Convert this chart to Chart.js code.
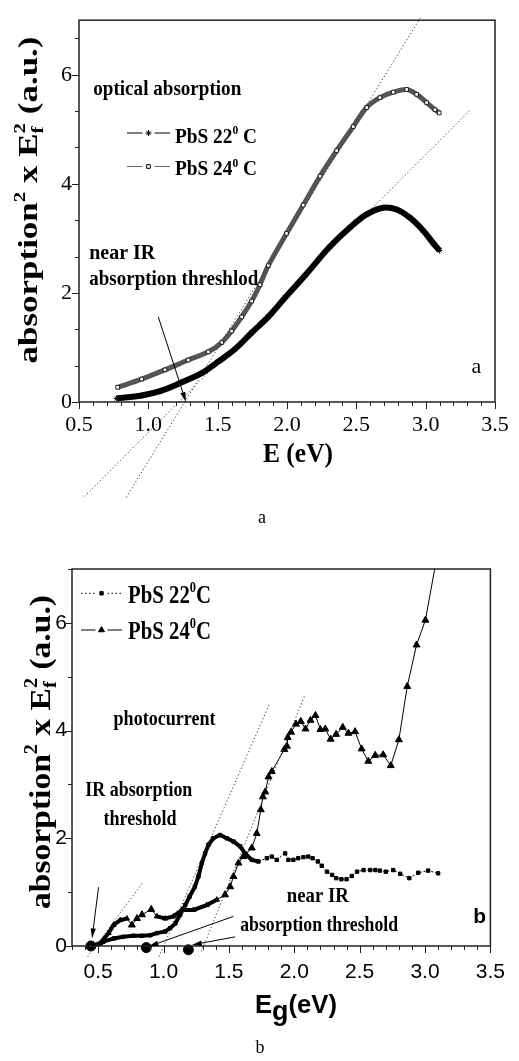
<!DOCTYPE html>
<html lang="en">
<head>
<meta charset="UTF-8">
<title>PbS optical absorption and photocurrent</title>
<script src="https://cdn.jsdelivr.net/npm/chart.js"></script>
<style>
  body { margin: 0; background: #fff; width: 519px; height: 1061px; overflow: hidden; position: relative; }
  canvas { position: absolute; left: 0; }
  #chartA { top: 0; }
  #chartB { top: 530px; }
</style>
</head>
<body>
<canvas id="chartA" width="519" height="530"></canvas>
<canvas id="chartB" width="519" height="531"></canvas>
<script>
// ---- (a) optical absorption ----
const a22x = [0.772, 0.952, 1.096, 1.24, 1.385, 1.504, 1.625, 1.745, 1.865, 1.985, 2.13, 2.31, 2.454, 2.574, 2.694, 2.79, 2.886, 2.98, 3.055, 3.10];
const a22y = [0.065, 0.12, 0.21, 0.36, 0.53, 0.74, 0.97, 1.27, 1.56, 1.91, 2.32, 2.85, 3.20, 3.44, 3.56, 3.53, 3.38, 3.15, 2.91, 2.78];
const a24x = [0.779, 0.952, 1.12, 1.288, 1.432, 1.529, 1.60, 1.673, 1.745, 1.805, 1.865, 1.997, 2.117, 2.238, 2.358, 2.478, 2.574, 2.67, 2.766, 2.863, 2.935, 3.007, 3.067, 3.098];
const a24y = [0.27, 0.42, 0.59, 0.77, 0.92, 1.09, 1.30, 1.56, 1.85, 2.15, 2.50, 3.09, 3.61, 4.14, 4.61, 5.05, 5.40, 5.58, 5.68, 5.73, 5.64, 5.49, 5.36, 5.30];
// tangent lines (end points)
const aFit1x = [0.84, 2.97], aFit1y = [-1.75, 7.08];
const aFit2x = [0.54, 3.32], aFit2y = [-1.73, 5.35];
const aTicksX = [0.5, 1.0, 1.5, 2.0, 2.5, 3.0, 3.5];
const aTicksY = [0, 2, 4, 6];

// ---- (b) photocurrent ----
const b22x = [0.478, 0.54, 0.62, 0.69, 0.77, 0.835, 0.898, 0.95, 1.013, 1.05, 1.09, 1.127, 1.166, 1.20, 1.24, 1.267, 1.293, 1.318, 1.344, 1.38, 1.433, 1.484, 1.535, 1.586, 1.624, 1.675, 1.726, 1.79, 1.828, 1.866, 1.93, 1.955, 1.993, 2.03, 2.07, 2.107, 2.14, 2.18, 2.21, 2.25, 2.29, 2.32, 2.36, 2.40, 2.44, 2.48, 2.53, 2.58, 2.62, 2.655, 2.70, 2.757, 2.81, 2.88, 2.948, 3.024, 3.10];
const b22y = [0.02, 0.08, 0.14, 0.17, 0.19, 0.19, 0.20, 0.24, 0.27, 0.33, 0.42, 0.58, 0.76, 0.92, 1.10, 1.29, 1.54, 1.72, 1.88, 2.00, 2.06, 2.00, 1.94, 1.85, 1.72, 1.60, 1.57, 1.63, 1.66, 1.60, 1.72, 1.60, 1.60, 1.63, 1.65, 1.66, 1.63, 1.57, 1.49, 1.38, 1.32, 1.26, 1.24, 1.24, 1.30, 1.38, 1.41, 1.41, 1.41, 1.40, 1.38, 1.41, 1.34, 1.26, 1.36, 1.40, 1.35];
const b24x = [0.48, 0.516, 0.58, 0.618, 0.669, 0.72, 0.758, 0.797, 0.835, 0.906, 0.95, 1.013, 1.076, 1.14, 1.229, 1.33, 1.408, 1.47, 1.51, 1.535, 1.573, 1.61, 1.675, 1.713, 1.744, 1.76, 1.778, 1.803, 1.828, 1.924, 1.944, 1.95, 1.975, 2.013, 2.05, 2.086, 2.124, 2.162, 2.20, 2.237, 2.278, 2.32, 2.371, 2.414, 2.465, 2.515, 2.566, 2.619, 2.68, 2.738, 2.80, 2.864, 2.935, 3.003, 3.10];
const b24y = [0.0, 0.05, 0.24, 0.39, 0.48, 0.51, 0.39, 0.51, 0.58, 0.68, 0.55, 0.51, 0.55, 0.67, 0.67, 0.76, 0.86, 0.95, 1.10, 1.29, 1.54, 1.66, 1.82, 2.09, 2.53, 2.77, 2.86, 3.14, 3.24, 3.65, 3.71, 3.87, 3.97, 4.12, 4.17, 4.03, 4.19, 4.28, 4.02, 4.03, 3.84, 3.93, 4.06, 3.95, 3.98, 3.66, 3.43, 3.54, 3.55, 3.35, 3.83, 4.82, 5.59, 6.05, 7.35];
// threshold markers on the axis
const bThrX = [0.445, 0.868, 1.19], bThrY = [0.0, -0.03, -0.07];
const bFitAx = [0.42, 0.845], bFitAy = [-0.2, 1.19];
const bFitBx = [0.965, 1.815], bFitBy = [-0.2, 4.52];
const bFitCx = [1.29, 2.08], bFitCy = [-0.1, 4.65];
const bTicksX = [0.5, 1.0, 1.5, 2.0, 2.5, 3.0, 3.5];
const bTicksY = [0, 2, 4, 6];

const serif = "'Liberation Serif', 'Times New Roman', serif";
const sans = "'Liberation Sans', Arial, sans-serif";

const pts = (xs, ys) => xs.map((x, i) => ({ x, y: ys[i] }));

// draws text made of plain / superscript / subscript runs, optionally squeezed to a width
function richText(ctx, runs, x, y, o) {
  const fam = o.family || serif;
  const wt = o.bold ? 'bold ' : '';
  const font = s => wt + s.toFixed(2) + 'px ' + fam;
  const S = o.size;
  const items = [];
  let w = 0;
  runs.forEach(r => {
    if (typeof r === 'string') {
      ctx.font = font(S);
      items.push({ t: r, s: S, dx: w, dy: 0 });
      w += ctx.measureText(r).width;
    } else {
      let adv = 0;
      if (r.sup) {
        const s = S * (r.supScale || 0.6);
        ctx.font = font(s);
        items.push({ t: r.sup, s, dx: w, dy: -S * 0.42 });
        adv = Math.max(adv, ctx.measureText(r.sup).width);
      }
      if (r.sub) {
        const s = S * (r.subScale || 0.6);
        ctx.font = font(s);
        items.push({ t: r.sub, s, dx: w, dy: S * (r.subDy || 0.2) });
        adv = Math.max(adv, ctx.measureText(r.sub).width);
      }
      w += adv;
    }
  });
  const sx = o.fit ? o.fit / w : 1;
  ctx.save();
  ctx.translate(x, y);
  if (o.rotate) ctx.rotate(o.rotate);
  ctx.scale(sx, 1);
  const x0 = o.align === 'center' ? -w / 2 : 0;
  ctx.fillStyle = o.color || '#000';
  ctx.textBaseline = 'alphabetic';
  ctx.textAlign = 'left';
  items.forEach(it => { ctx.font = font(it.s); ctx.fillText(it.t, x0 + it.dx, it.dy); });
  ctx.restore();
}

function arrow(ctx, x0, y0, x1, y1) {
  const ang = Math.atan2(y1 - y0, x1 - x0), L = 10, H = 2.6;
  const c = Math.cos(ang), s = Math.sin(ang);
  ctx.beginPath();
  ctx.moveTo(x0, y0);
  ctx.lineTo(x1 - L * 0.7 * c, y1 - L * 0.7 * s);
  ctx.stroke();
  ctx.beginPath();
  ctx.moveTo(x1, y1);
  ctx.lineTo(x1 - L * c + H * s, y1 - L * s - H * c);
  ctx.lineTo(x1 - L * c - H * s, y1 - L * s + H * c);
  ctx.closePath();
  ctx.fill();
}

// frame, minor/major tick marks, notes, legend and axis titles
function decor(cfg) {
  return {
    id: 'decor',
    afterDraw(chart) {
      const ctx = chart.ctx, xs = chart.scales.x, ys = chart.scales.y, ar = chart.chartArea;
      const px = v => xs.getPixelForValue(v), py = v => ys.getPixelForValue(v);
      ctx.save();
      ctx.strokeStyle = '#222';
      ctx.lineWidth = cfg.frameW;
      ctx.strokeRect(ar.left, ar.top, ar.right - ar.left, ar.bottom - ar.top);

      ctx.lineWidth = 1;
      ctx.beginPath();
      const tickX = (v, len) => { const p = Math.round(px(v)) + 0.5; ctx.moveTo(p, ar.bottom); ctx.lineTo(p, ar.bottom + len); };
      const tickY = (v, len) => { const p = Math.round(py(v)) + 0.5; ctx.moveTo(ar.left, p); ctx.lineTo(ar.left - len, p); };
      for (let v = cfg.xMin; v <= cfg.xMax + 1e-9; v += 0.1) tickX(v, 4);
      cfg.xMajor.forEach(v => tickX(v, 7));
      for (let v = cfg.yMinorStep; v < 7 + 1e-9; v += cfg.yMinorStep) tickY(v, 4);
      cfg.yMajor.forEach(v => tickY(v, 7));
      ctx.stroke();

      ctx.strokeStyle = '#000';
      ctx.fillStyle = '#000';
      cfg.arrows.forEach(a => arrow(ctx, px(a[0]), py(a[1]), px(a[2]), py(a[3])));

      cfg.notes.forEach(n => richText(ctx, n.runs, px(n.x), py(n.y), n));

      cfg.legend.forEach(r => {
        const xm = (r.x0 + r.x1) / 2;
        ctx.strokeStyle = r.color;
        ctx.fillStyle = r.fill;
        ctx.lineWidth = 1;
        ctx.setLineDash(r.dash || []);
        ctx.beginPath();
        ctx.moveTo(r.x0, r.y); ctx.lineTo(xm - 6, r.y);
        ctx.moveTo(xm + 6, r.y); ctx.lineTo(r.x1, r.y);
        ctx.stroke();
        ctx.setLineDash([]);
        ctx.strokeStyle = '#000';
        Chart.helpers.drawPoint(ctx, { pointStyle: r.style, radius: r.radius, rotation: 0, borderWidth: 1 }, xm, r.y);
        richText(ctx, r.runs, r.tx, r.ty, r.font);
      });

      cfg.titles.forEach(t => richText(ctx, t.runs, t.x, t.y, t));
      ctx.restore();
    }
  };
}

function fixedTicks(values) {
  return scale => { scale.ticks = values.map(v => ({ value: v })); };
}

function scales(o) {
  return {
    x: {
      type: 'linear', min: o.xMin, max: o.xMax,
      afterBuildTicks: fixedTicks(o.xTicks),
      afterFit: s => { s.height = o.xAxisH; },
      grid: { display: false, drawTicks: false },
      border: { display: false },
      ticks: { font: o.tickFont, color: '#000', padding: o.xPad, maxRotation: 0, autoSkip: false, callback: v => v.toFixed(1) }
    },
    y: {
      type: 'linear', min: 0, max: 7,
      afterBuildTicks: fixedTicks(o.yTicks),
      afterFit: s => { s.width = o.yAxisW; },
      grid: { display: false, drawTicks: false },
      border: { display: false },
      ticks: { font: o.tickFont, color: '#000', padding: o.yPad, callback: v => String(v) }
    }
  };
}

const fitLine = (xs, ys) => ({
  data: pts(xs, ys), borderColor: '#333', borderWidth: 1, borderDash: [1.2, 2.4],
  pointRadius: 0, clip: false, tension: 0
});

// dense stretches of the (b) 24 C curve, drawn as a thick band
const dense24 = x => x < 0.74 || (x > 0.94 && x < 1.47);

const yTitleRuns = ['absorption', { sup: '2' }, ' x E', { sub: 'f', sup: '2' }, ' (a.u.)'];
const base = {
  responsive: false, animation: false, events: [],
  plugins: { legend: { display: false }, tooltip: { enabled: false } }
};

// ---------- chart (a) ----------
new Chart(document.getElementById('chartA'), {
  type: 'line',
  data: {
    datasets: [
      fitLine(aFit1x, aFit1y),
      fitLine(aFit2x, aFit2y),
      {
        label: 'PbS 22⁰ C', data: pts(a22x, a22y), borderColor: '#000', borderWidth: 6,
        tension: 0.35, pointStyle: 'star', pointRadius: 3, pointBorderColor: '#000', pointBorderWidth: 1
      },
      {
        label: 'PbS 24⁰ C', data: pts(a24x, a24y), borderColor: '#555', borderWidth: 5,
        tension: 0.35, pointStyle: 'rect', pointRadius: 2.6, pointBackgroundColor: '#fff',
        pointBorderColor: '#222', pointBorderWidth: 1
      }
    ]
  },
  options: Object.assign({}, base, {
    layout: { padding: { top: 4, right: 24, left: 0, bottom: 0 } },
    scales: scales({
      xMin: 0.5, xMax: 3.5, xTicks: aTicksX, yTicks: aTicksY, xAxisH: 128, yAxisW: 79,
      tickFont: { family: serif, size: 22 }, xPad: 10, yPad: 7
    })
  }),
  plugins: [decor({
    frameW: 1.5, xMin: 0.5, xMax: 3.5, xMajor: aTicksX, yMajor: aTicksY, yMinorStep: 2 / 3,
    arrows: [[1.072, 1.56, 1.271, 0.0]],
    notes: [
      { runs: ['optical absorption'], x: 0.603, y: 5.62, size: 21, bold: true, fit: 148 },
      { runs: ['near IR'], x: 0.574, y: 2.62, size: 21, bold: true, fit: 66 },
      { runs: ['absorption threshlod'], x: 0.574, y: 2.14, size: 21, bold: true, fit: 169 },
      { runs: ['a'], x: 3.33, y: 0.53, size: 22 }
    ],
    legend: [
      { x0: 127, x1: 170, y: 133, style: 'star', radius: 3, color: '#000', fill: '#000',
        runs: ['PbS 22', { sup: '0' }, ' C'], tx: 175, ty: 142.7, font: { size: 20, bold: true, fit: 82 } },
      { x0: 127, x1: 170, y: 166.5, style: 'rect', radius: 2.6, color: '#666', fill: '#fff',
        runs: ['PbS 24', { sup: '0' }, ' C'], tx: 175, ty: 175, font: { size: 20, bold: true, fit: 82 } }
    ],
    titles: [
      { runs: yTitleRuns, x: 37, y: 200, size: 28, bold: true, fit: 327, align: 'center', rotate: -Math.PI / 2 },
      { runs: ['E (eV)'], x: 298, y: 462, size: 27, bold: true, fit: 70, align: 'center' },
      { runs: ['a'], x: 262, y: 523, size: 18, align: 'center' }
    ]
  })]
});

// ---------- chart (b) ----------
new Chart(document.getElementById('chartB'), {
  type: 'line',
  data: {
    datasets: [
      fitLine(bFitAx, bFitAy),
      fitLine(bFitBx, bFitBy),
      fitLine(bFitCx, bFitCy),
      {
        label: 'threshold', data: pts(bThrX, bThrY), showLine: false, clip: false,
        pointStyle: 'circle', pointRadius: 5, pointBackgroundColor: '#000', pointBorderColor: '#000'
      },
      {
        label: 'PbS 22⁰C', data: pts(b22x, b22y), borderColor: '#000', borderWidth: 1, borderDash: [2, 2],
        segment: {
          borderWidth: c => (c.p0.parsed.x < 1.72 ? 4 : 1),
          borderDash: c => (c.p0.parsed.x < 1.72 ? [] : [2, 2])
        },
        pointStyle: 'rect', pointRadius: 2.4, pointBackgroundColor: '#000', pointBorderColor: '#000', tension: 0
      },
      {
        label: 'PbS 24⁰C', data: pts(b24x, b24y), borderColor: '#000', borderWidth: 1,
        segment: { borderWidth: c => (dense24(c.p0.parsed.x) && dense24(c.p1.parsed.x) ? 4 : 1) },
        pointStyle: 'triangle', pointRadius: c => (c.raw && dense24(c.raw.x) ? 3 : 4),
        pointBackgroundColor: '#000', pointBorderColor: '#000', tension: 0
      }
    ]
  },
  options: Object.assign({}, base, {
    layout: { padding: { top: 39, right: 28, left: 0, bottom: 0 } },
    scales: scales({
      xMin: 0.3, xMax: 3.5, xTicks: bTicksX, yTicks: bTicksY, xAxisH: 115, yAxisW: 72,
      tickFont: { family: sans, size: 21 }, xPad: 14, yPad: 5
    })
  }),
  plugins: [decor({
    frameW: 1.5, xMin: 0.3, xMax: 3.5, xMajor: bTicksX, yMajor: bTicksY, yMinorStep: 1,
    arrows: [[0.503, 1.09, 0.453, 0.14], [1.535, 0.55, 0.885, -0.01], [1.548, 0.17, 1.217, 0.02]],
    notes: [
      { runs: ['photocurrent'], x: 0.618, y: 4.11, size: 22, bold: true, fit: 102 },
      { runs: ['IR absorption'], x: 0.402, y: 2.78, size: 22, bold: true, fit: 107 },
      { runs: ['threshold'], x: 0.541, y: 2.25, size: 22, bold: true, fit: 73 },
      { runs: ['near IR'], x: 1.943, y: 0.82, size: 22, bold: true, fit: 62 },
      { runs: ['absorption threshold'], x: 1.586, y: 0.28, size: 22, bold: true, fit: 158 },
      { runs: ['b'], x: 3.368, y: 0.43, size: 21, bold: true, family: sans }
    ],
    legend: [
      { x0: 81, x1: 122, y: 63.3, style: 'rect', radius: 2.4, color: '#000', fill: '#000', dash: [1.5, 2.5],
        runs: ['PbS 22', { sup: '0' }, 'C'], tx: 128, ty: 72.7, font: { size: 26, bold: true, fit: 83 } },
      { x0: 81, x1: 122, y: 100, style: 'triangle', radius: 3.5, color: '#000', fill: '#000',
        runs: ['PbS 24', { sup: '0' }, 'C'], tx: 128, ty: 109.3, font: { size: 26, bold: true, fit: 83 } }
    ],
    titles: [
      { runs: yTitleRuns, x: 50, y: 222, size: 30, bold: true, fit: 314, align: 'center', rotate: -Math.PI / 2 },
      { runs: ['E', { sub: 'g', subScale: 1.05, subDy: 0.28 }, '(eV)'], x: 296, y: 483, size: 26, bold: true,
        family: sans, fit: 82, align: 'center' },
      { runs: ['b'], x: 260, y: 523, size: 18, align: 'center' }
    ]
  })]
});
</script>
</body>
</html>
